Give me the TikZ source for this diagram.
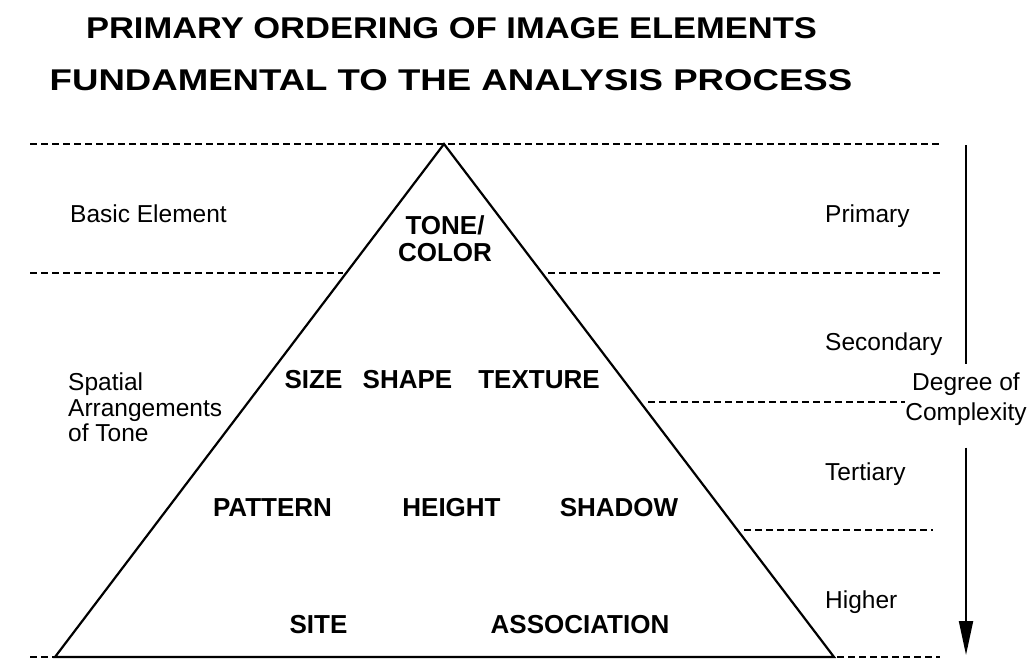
\documentclass[tikz,border=0pt]{standalone}
\usepackage{fontspec}
\setmainfont{Liberation Sans}
\usetikzlibrary{arrows.meta}

\begin{document}
\begin{tikzpicture}[x=1pt, y=-1pt,
  elem/.style={font=\fontsize{26}{27}\selectfont\bfseries, inner sep=0pt, align=center},
  side/.style={font=\fontsize{24.5}{25.5}\selectfont, inner sep=0pt, align=left},
  head/.style={font=\fontsize{30}{30}\selectfont\bfseries, inner sep=0pt},
  guide/.style={line width=2pt, dash pattern=on 6.5pt off 4.5pt},
  edge/.style={line width=2.2pt, line join=miter},
  arrow/.style={line width=2pt, -{Triangle[length=34pt, width=14pt]}}]
\useasboundingbox (0,0) rectangle (1032,659);

% title
\node[head] (title1) at (451.5,28.5) {\scalebox{1.15}[1]{PRIMARY ORDERING OF IMAGE ELEMENTS}};
\node[head] (title2) at (451,80) {\scalebox{1.22}[1]{FUNDAMENTAL TO THE ANALYSIS PROCESS}};

% pyramid
\coordinate (apex) at (444,144);
\coordinate (baseL) at (55,657);
\coordinate (baseR) at (834,657);
\draw[edge] (baseL) -- (apex) -- (baseR) -- cycle;

% level guides
\draw[guide] (30,144) -- (942,144);
\draw[guide] (30,273) -- (343,273);
\draw[guide] (548,273) -- (942,273);
\draw[guide] (648,402) -- (905,402);
\draw[guide] (744,530) -- (933,530);
\draw[guide] (30,657) -- (baseL);
\draw[guide] (837,657) -- (940,657);

% elements
\node[elem] (tone) at (445,238.5) {TONE/\\COLOR};
\node[elem] (size) at (313.5,380) {SIZE};
\node[elem] (shape) at (407.5,380) {SHAPE};
\node[elem] (texture) at (539,380) {TEXTURE};
\node[elem] (pattern) at (272.5,508) {PATTERN};
\node[elem] (height) at (451.5,508) {HEIGHT};
\node[elem] (shadow) at (619,508) {SHADOW};
\node[elem] (site) at (318.5,625) {SITE};
\node[elem] (assoc) at (580,625) {ASSOCIATION};

% left labels
\node[side, anchor=base west] (basic) at (70,222) {Basic Element};
\node[side, anchor=west] (spatial) at (68,407.5) {Spatial\\Arrangements\\of Tone};

% right labels
\node[side, anchor=base west] (primary) at (825,222) {Primary};
\node[side, anchor=base west] (secondary) at (825,350) {Secondary};
\node[side, anchor=base west] (tertiary) at (825,480) {Tertiary};
\node[side, anchor=base west] (higher) at (825,608) {Higher};

% complexity arrow
\node[side, align=center, font=\fontsize{24.5}{30}\selectfont] (complexity) at (966,399) {Degree of\\Complexity};
\coordinate (arrtop) at (966,145);
\coordinate (arrtip) at (966,655);
\draw[line width=2pt, shorten >=8pt] (arrtop) -- (complexity);
\draw[arrow, shorten <=22pt] (complexity) -- (arrtip);
\end{tikzpicture}
\end{document}
